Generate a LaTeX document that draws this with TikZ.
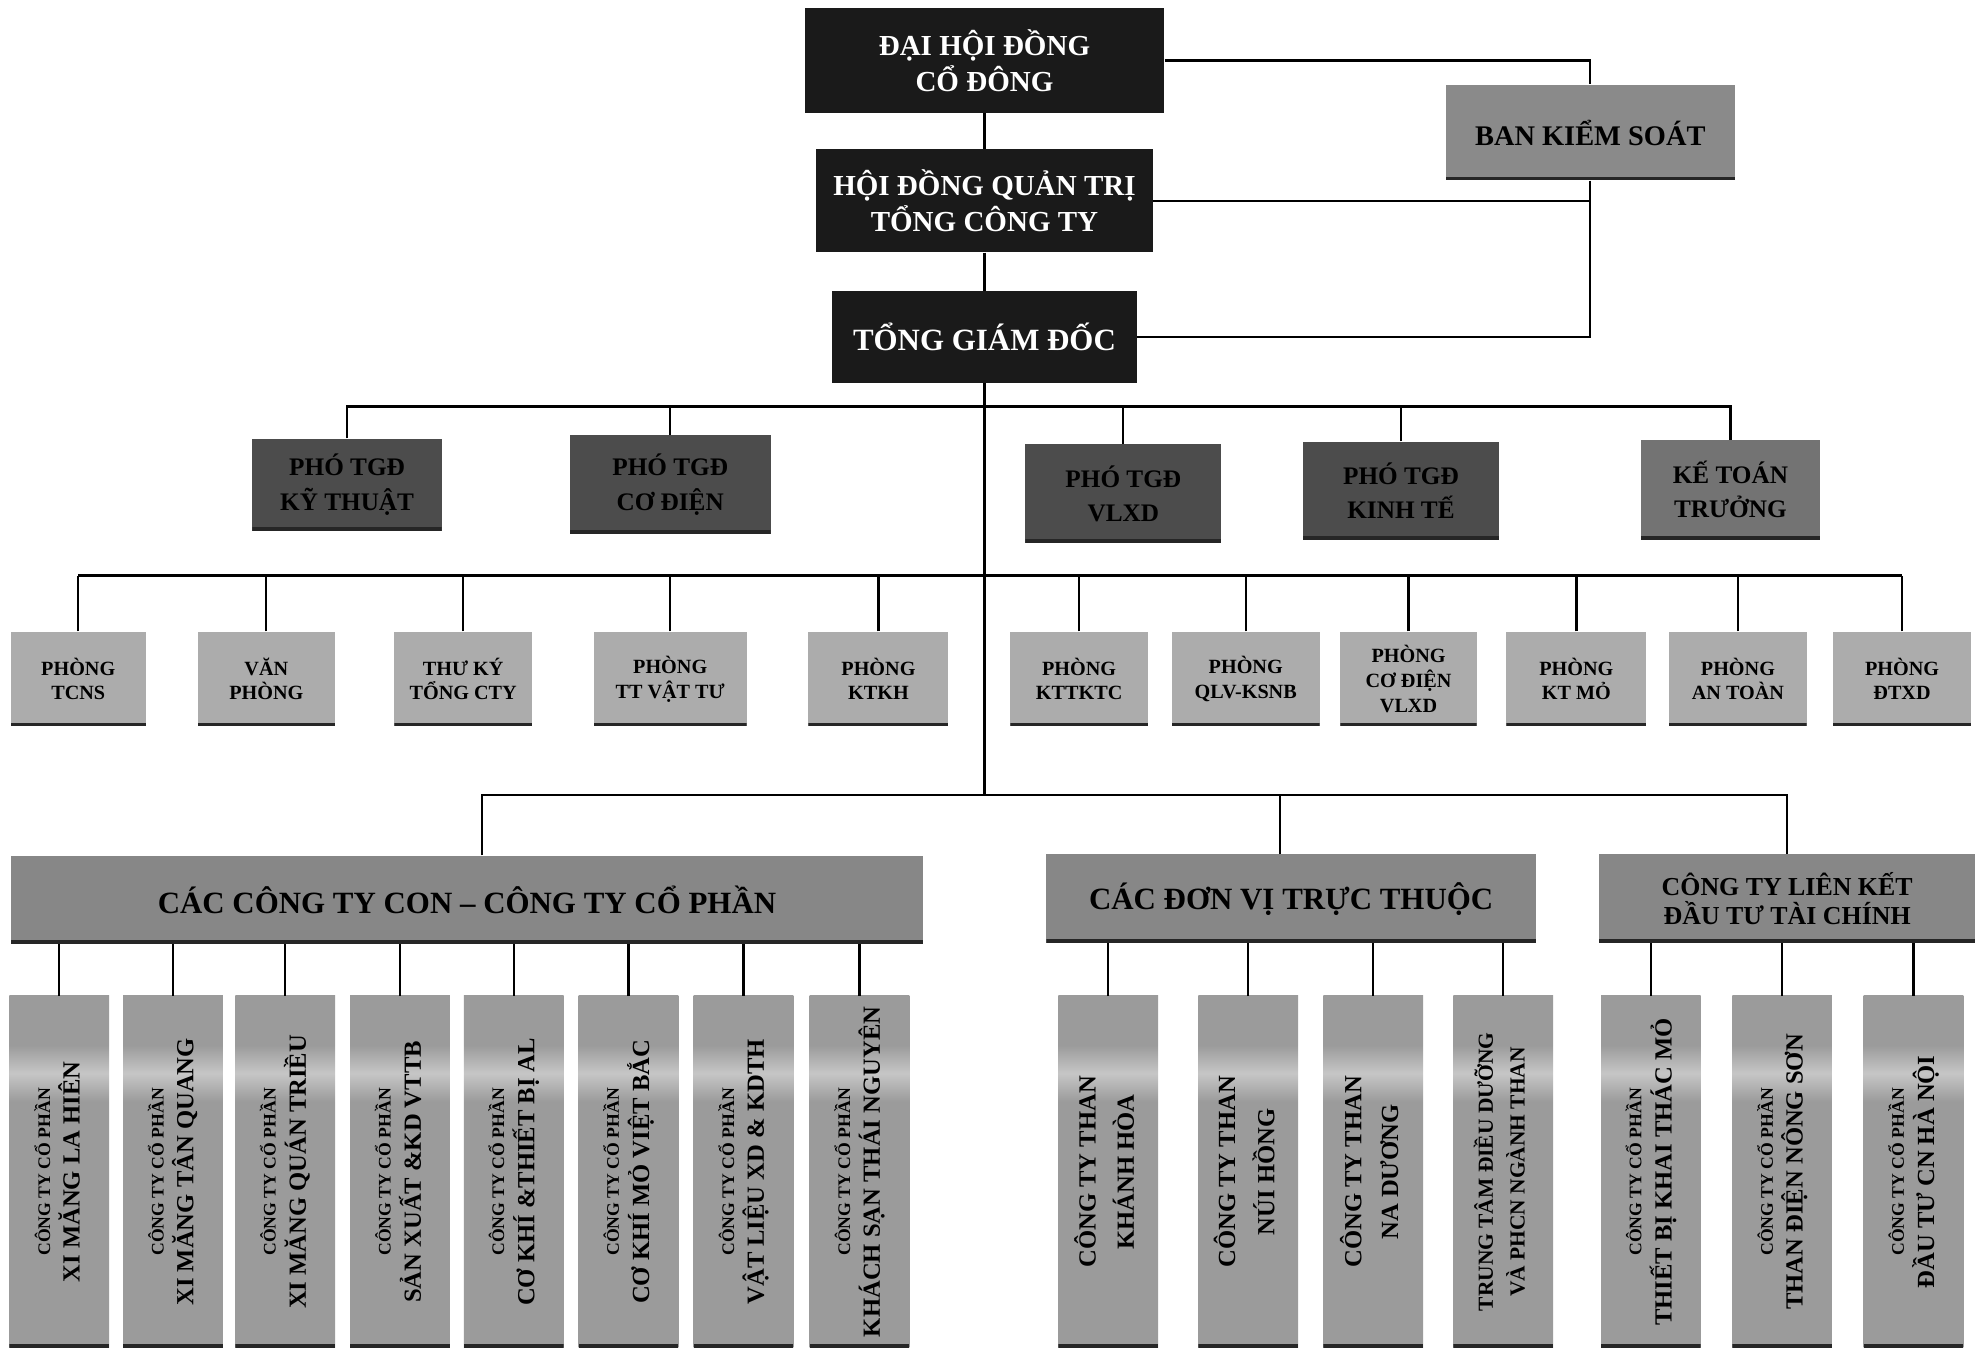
\documentclass[tikz,border=0pt]{standalone}
\usepackage{fontspec}
\setmainfont{Liberation Serif}
\usepackage{graphicx}
\definecolor{BoardBlack}{RGB}{26,26,26}
\definecolor{DeputyGray}{RGB}{76,76,76}
\definecolor{ChiefGray}{RGB}{115,115,115}
\definecolor{AuditGray}{RGB}{138,138,138}
\definecolor{DeptGray}{RGB}{172,172,172}
\definecolor{GroupGray}{RGB}{135,135,135}
\definecolor{UnitGray}{RGB}{155,155,155}
\definecolor{UnitLight}{RGB}{198,198,198}
\usetikzlibrary{positioning,calc}
\pgfdeclareverticalshading{unitband}{100bp}{color(0bp)=(UnitGray); color(60bp)=(UnitGray); color(64bp)=(UnitLight); color(68bp)=(UnitGray); color(100bp)=(UnitGray)}
\newcommand{\vtxt}[3][0pt]{\rotatebox{90}{\begin{tabular}{@{}c@{}}#2\\[#1]#3\end{tabular}}}
\newcommand{\cophan}{{\fontsize{14}{16}\selectfont CÔNG TY CỔ PHẦN}}

\begin{document}
\begin{tikzpicture}[x=1pt, y=-1pt,
  link/.style={line width=1.8pt},
  base/.style={inner sep=0pt, align=center, font=\bfseries},
  foot/.style={path picture={\fill[black!85] ([yshift=3pt]path picture bounding box.south west) rectangle (path picture bounding box.south east);}},
  board/.style={base, fill=BoardBlack, text=white, font=\fontsize{23}{29}\selectfont\bfseries},
  audit/.style={base, foot, fill=AuditGray, font=\fontsize{22.5}{26}\selectfont\bfseries},
  deputy/.style={base, foot, fill=DeputyGray, text=black, font=\fontsize{20}{27}\selectfont\bfseries},
  chief/.style={deputy, fill=ChiefGray},
  dept/.style={base, foot, fill=DeptGray, minimum width=110, minimum height=75, font=\fontsize{16}{19.5}\selectfont\bfseries},
  group/.style={base, foot, fill=GroupGray, minimum height=70, font=\fontsize{24.5}{28}\selectfont\bfseries},
  unit/.style={base, foot, shade, shading=unitband, minimum width=79, minimum height=279, font=\fontsize{19.5}{22}\selectfont\bfseries}]
\useasboundingbox (0,0) rectangle (1568,1068);

\node[board, minimum width=285, minimum height=83] (dhdcd) at (780,48) {ĐẠI HỘI ĐỒNG\\CỔ ĐÔNG};
\node[board, minimum width=267, minimum height=82] (hdqt) at (780,159) {HỘI ĐỒNG QUẢN TRỊ\\TỔNG CÔNG TY};
\node[board, minimum width=242, minimum height=73, font=\fontsize{24.5}{28}\selectfont\bfseries] (tgd) at (780,267) {TỔNG GIÁM ĐỐC};
\node[audit, minimum width=229, minimum height=76] (bks) at (1260,105) {BAN KIỂM SOÁT};
\draw[link] (dhdcd) -- (hdqt) -- (tgd);
\draw[link] (dhdcd.east) -| (bks.north);
\draw[link] (bks.south) |- (tgd.east);
\draw[link] (hdqt.east) -- (hdqt.east -| bks.south);

\coordinate (bus2) at (780,322);
\coordinate (bus3) at (780,456);
\coordinate (hub) at (780,630);
\draw[link] (tgd.south) -- (hub);

\node[deputy, minimum width=150, minimum height=73] (pkt) at (275,384) {PHÓ TGĐ\\KỸ THUẬT};
\node[deputy, minimum width=159, minimum height=78] (pcd) at (531,384) {PHÓ TGĐ\\CƠ ĐIỆN};
\node[deputy, minimum width=155, minimum height=78] (pvl) at (890,391) {PHÓ TGĐ\\VLXD};
\node[deputy, minimum width=155, minimum height=78] (pkte) at (1110,389) {PHÓ TGĐ\\KINH TẾ};
\node[chief, minimum width=142, minimum height=79] (ktt) at (1371,388) {KẾ TOÁN\\TRƯỞNG};
\draw[link] (pkt.north) |- (bus2) -| (ktt.north);
\foreach \nm in {pcd,pvl,pkte}
  \draw[link] (\nm.north) -- (\nm.north |- bus2);

\foreach \cx/\w/\nm/\txt in {62/107/tcns/{PHÒNG\\TCNS}, 211/109/vp/{VĂN\\PHÒNG}, 367/109/tk/{THƯ KÝ\\TỔNG CTY}, 531/121/ttvt/{PHÒNG\\TT VẬT TƯ}, 696/111/ktkh/{PHÒNG\\KTKH}, 855/109/kttktc/{PHÒNG\\KTTKTC}, 987/117/qlv/{PHÒNG\\QLV-KSNB}, 1116/108/cdvl/{PHÒNG\\CƠ ĐIỆN\\VLXD}, 1249/111/ktmo/{PHÒNG\\KT MỎ}, 1377/109/at/{PHÒNG\\AN TOÀN}, 1507/110/dtxd/{PHÒNG\\ĐTXD}}
{
  \node[dept, minimum width=\w] (\nm) at (\cx,538) {\txt};
  \draw[link] (\nm.north) -- (\nm.north |- bus3);
}
\draw[link] (tcns.north |- bus3) -- (dtxd.north |- bus3);

\node[group, minimum width=723] (con) at (370,713) {CÁC CÔNG TY CON – CÔNG TY CỔ PHẦN};
\node[group, minimum width=388] (dvtt) at (1023,712) {CÁC ĐƠN VỊ TRỰC THUỘC};
\node[group, minimum width=298, font=\fontsize{20.5}{23}\selectfont\bfseries] (lk) at (1416,712) {CÔNG TY LIÊN KẾT\\ĐẦU TƯ TÀI CHÍNH};
\draw[link] ([xshift=12pt]con.north) |- (hub) -| (lk.north);
\draw[link] ([xshift=-9pt]dvtt.north) -- ([xshift=-9pt]dvtt.north |- hub);

\foreach \cx/\nm/\txt in {47/u1/{XI MĂNG LA HIÊN}, 137/u2/{XI MĂNG TÂN QUANG}, 226/u3/{XI MĂNG QUÁN TRIỀU}, 317/u4/{SẢN XUẤT \&KD VTTB}, 407/u5/{CƠ KHÍ \&THIẾT BỊ AL}, 498/u6/{CƠ KHÍ MỎ VIỆT BẮC}, 589/u7/{VẬT LIỆU XD \& KDTH}, 681/u8/{KHÁCH SẠN THÁI NGUYÊN}}
{
  \node[unit] (\nm) at (\cx,928.5) {\vtxt{\cophan}{\txt}};
  \draw[link] (\nm.north) -- (\nm.north |- con.south);
}
\foreach \cx/\nm/\txt in {878/t1/{\vtxt[7pt]{CÔNG TY THAN}{KHÁNH HÒA}}, 989/t2/{\vtxt[7pt]{CÔNG TY THAN}{NÚI HỒNG}}, 1088/t3/{\vtxt[7pt]{CÔNG TY THAN}{NA DƯƠNG}}, 1191/t4/{\fontsize{17}{22}\selectfont\vtxt[3pt]{TRUNG TÂM ĐIỀU DƯỠNG}{VÀ PHCN NGÀNH THAN}}}
{
  \node[unit] (\nm) at (\cx,928.5) {\txt};
  \draw[link] (\nm.north) -- (\nm.north |- dvtt.south);
}
\foreach \cx/\nm/\txt in {1308/l1/{THIẾT BỊ KHAI THÁC MỎ}, 1412/l2/{THAN ĐIỆN NÔNG SƠN}, 1516/l3/{ĐẦU TƯ CN HÀ NỘI}}
{
  \node[unit] (\nm) at (\cx,928.5) {\vtxt{\cophan}{\txt}};
  \draw[link] (\nm.north) -- (\nm.north |- lk.south);
}
\end{tikzpicture}
\end{document}
